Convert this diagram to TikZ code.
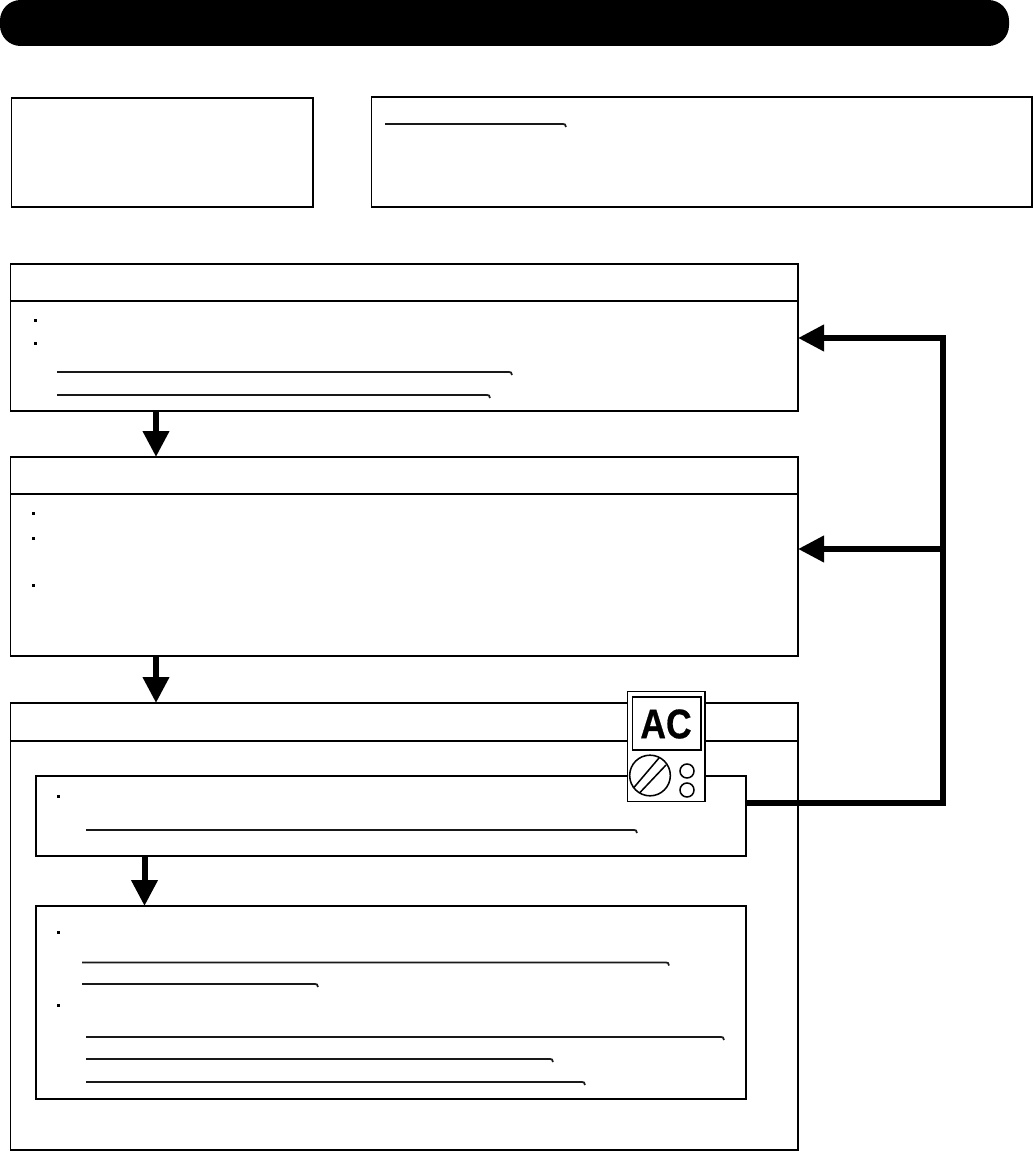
\documentclass[tikz,border=0pt]{standalone}
\usepackage{fontspec}
\usepackage{graphicx}
\setsansfont{Liberation Sans}
\newfontfamily\acfont[FakeBold=0.6]{Liberation Sans Bold}
\usetikzlibrary{arrows.meta}
\newcommand\bx[6]{\node[#1,anchor=north west,minimum width={(#5-#3)*.75pt},minimum height={(#6-#4)*.75pt}] (#2) at (#3,#4) {};}
\tikzset{
  frame/.style={draw=black,fill=white,line width=1.15pt,inner sep=0pt,outer sep=0pt},
  thinframe/.style={frame,line width=.95pt},
  titlebar/.style={fill=black,rounded corners=15.5pt,inner sep=0pt,outer sep=0pt},
  hdr/.style={line width=1pt},
  flow/.style={line width=4.5pt,-{Triangle[length=19.5pt,width=19pt]}},
  bus/.style={line width=4.5pt},
  uln/.style={line width=1.3pt,black!90},
  meter/.style={line width=1.15pt},
}
\newcommand\uln[3]{\draw[uln] (#1,#3) -- (#2-3,#3) -- (#2-1,#3+.5) -- (#2,#3+3);}
\newcommand\bul[2]{\fill (#1-1.5,#2-1.5) rectangle (#1+1.5,#2+1.5);}
\begin{document}
\begin{tikzpicture}[x=.75pt,y=-.75pt]
\useasboundingbox (0,0) rectangle (1034,1151);
\bx{titlebar}{title}{0}{0}{1009}{46}
\bx{thinframe}{A}{11.5}{98}{313}{207}
\bx{frame}{B}{371.5}{97}{1032}{207}
\bx{frame}{C}{10.5}{264}{798}{411}
\bx{frame}{D}{10.5}{457}{798}{656}
\bx{frame}{E}{10.5}{703}{798}{1150}
\bx{frame}{F}{36}{776}{746}{856}
\bx{thinframe}{G}{36}{906}{746}{1099}
% header rules
\coordinate (hc) at (0,301);
\coordinate (hd) at (0,494);
\coordinate (he) at (0,741);
\draw[hdr] (C.west |- hc) -- (C.east |- hc);
\draw[hdr] (D.west |- hd) -- (D.east |- hd);
\draw[hdr] (E.west |- he) -- (E.east |- he);
% flow arrows
\coordinate (cd) at (156,0);
\coordinate (fg) at (144.5,0);
\draw[flow] (C.south -| cd) -- (D.north -| cd);
\draw[flow] (D.south -| cd) -- (E.north -| cd);
\draw[flow] (F.south -| fg) -- (G.north -| fg);
% feedback
\coordinate (fbb) at (943,803);
\coordinate (fbm) at (943,549);
\coordinate (fbt) at (943,338);
\draw[bus,line join=miter] (F.east |- fbb) -- (fbb) -- (fbt) -- ++(-60,0);
\draw[flow] (fbt) -- (C.east |- fbt);
\draw[flow] (fbm) -- (D.east |- fbm);
% underlines
\uln{385}{566}{124}
\uln{57}{512}{372}
\uln{57}{490}{395}
\uln{86}{637}{830}
\uln{82}{669}{962.5}
\uln{82}{318}{984}
\uln{86}{724}{1037}
\uln{86}{553}{1059}
\uln{86}{585}{1082}
% bullets
\bul{35}{321}\bul{35}{344}
\bul{33}{513}\bul{33}{538}\bul{33}{585}
\bul{58}{796.5}
\bul{58}{932}\bul{58}{1005}
% meter
\bx{meter,draw=black,fill=white,inner sep=0pt,outer sep=0pt}{M}{627.5}{691.5}{705}{801.5}
\bx{meter,draw=black,fill=white,inner sep=0pt,outer sep=0pt}{S}{632.5}{697}{701}{750}
\node[inner sep=0pt,font=\acfont\fontsize{31}{31}\selectfont] (ac) at (666,724) {\scalebox{.86}[1]{AC}};
\node[meter,draw=black,circle,minimum size=30.5pt,inner sep=0pt] (dial) at (650,775.5) {};
\node[meter,draw=black,circle,minimum size=10.5pt,inner sep=0pt] (p1) at (687,771) {};
\node[meter,draw=black,circle,minimum size=10.5pt,inner sep=0pt] (p2) at (687,790) {};
\draw[meter] (633.5,788) -- (659,758);
\draw[meter] (639.5,793) -- (666,765);
\end{tikzpicture}
\end{document}
